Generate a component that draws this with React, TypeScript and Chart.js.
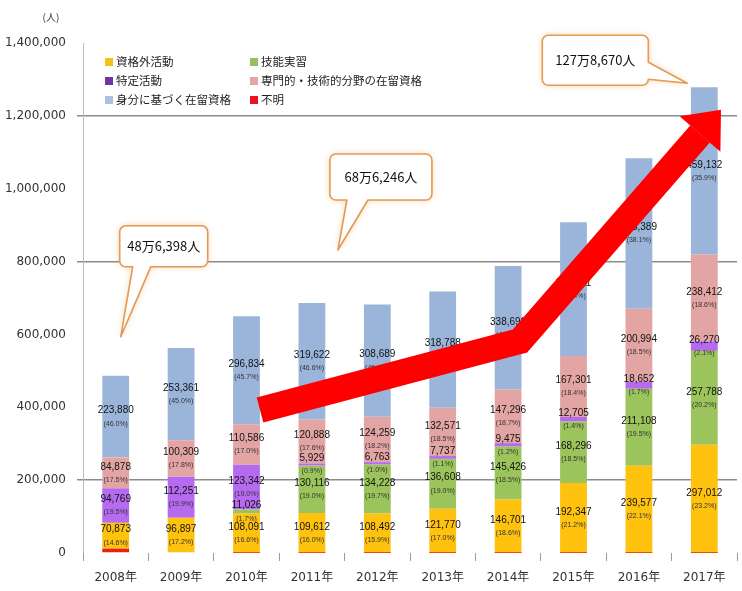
import React, { useEffect, useRef } from 'react';
import { Chart, registerables } from 'chart.js';

Chart.register(...registerables);

// ---- data ----
const YEARS = ['2008年', '2009年', '2010年', '2011年', '2012年', '2013年', '2014年', '2015年', '2016年', '2017年'];
const UNKNOWN = [11998, 0, 103, 79, 19, 30, 39, 36, 49, 56]; // 不明
const NON_STATUS = [70873, 96897, 108091, 109612, 108492, 121770, 146701, 192347, 239577, 297012]; // 資格外活動
const TRAINEE = [0, 0, 11026, 130116, 134228, 136608, 145426, 168296, 211108, 257788]; // 技能実習
const DESIGNATED = [94769, 112251, 123342, 5929, 6763, 7737, 9475, 12705, 18652, 26270]; // 特定活動
const PROFESSIONAL = [84878, 100309, 110586, 120888, 124259, 132571, 147296, 167301, 200994, 238412]; // 専門的・技術的分野の在留資格
const STATUS_BASED = [223880, 253361, 296834, 319622, 308689, 318788, 338690, 367211, 413389, 459132]; // 身分に基づく在留資格
const SERIES_NAMES = ['不明', '資格外活動', '技能実習', '特定活動', '専門的・技術的分野の在留資格', '身分に基づく在留資格'];
const Y_TICKS = [0, 200000, 400000, 600000, 800000, 1000000, 1200000, 1400000];
const GRID_VALUES = [200000, 800000, 1200000];
const CALLOUT_INDEX = [0, 3, 9];
const CALLOUT_TEXT = ['48万6,398人', '68万6,246人', '127万8,670人'];
const LEGEND_ORDER = [1, 2, 3, 4, 5, 0];

// ---- styles ----
const BAR_COLORS = ['#E8200E', '#FFC20E', '#9CC45C', '#B56AF0', '#E3A4A4', '#9BB5DA'];
const LEGEND_COLORS = ['#E8141E', '#F3C417', '#94C25F', '#6F35A5', '#E7A5AA', '#A9C0E0'];
const AXIS_FONT = "'DejaVu Sans', 'Noto Sans CJK JP', sans-serif";
const JP_FONT = "'Noto Sans CJK JP', sans-serif";
const LABEL_FONT = "'Liberation Sans', Arial, sans-serif";

function calloutPath(ctx: CanvasRenderingContext2D, x: number, y: number, w: number, h: number, r: number, tail: any) {
  ctx.beginPath();
  ctx.moveTo(x + r, y);
  ctx.lineTo(x + w - r, y);
  ctx.arcTo(x + w, y, x + w, y + r, r);
  if (tail.edge === 'right') {
    ctx.lineTo(x + w, tail.a);
    ctx.lineTo(tail.tx, tail.ty);
    ctx.lineTo(x + w, tail.b);
  }
  ctx.lineTo(x + w, y + h - r);
  ctx.arcTo(x + w, y + h, x + w - r, y + h, r);
  if (tail.edge === 'bottom') {
    ctx.lineTo(tail.b, y + h);
    ctx.lineTo(tail.tx, tail.ty);
    ctx.lineTo(tail.a, y + h);
  }
  ctx.lineTo(x + r, y + h);
  ctx.arcTo(x, y + h, x, y + h - r, r);
  ctx.lineTo(x, y + r);
  ctx.arcTo(x, y, x + r, y, r);
  ctx.closePath();
}

const labelPlugin = {
  id: 'segLabels',
  afterDatasetsDraw(chart: any) {
    const ctx: CanvasRenderingContext2D = chart.ctx;
    const ds = chart.data.datasets;
    const totals = YEARS.map((_, i) => ds.reduce((s: number, d: any) => s + (d.data[i] as number), 0));
    ctx.save();
    ctx.textAlign = 'center';
    ctx.textBaseline = 'middle';
    ds.forEach((d: any, di: number) => {
      if (di === 0) return;
      const meta = chart.getDatasetMeta(di);
      meta.data.forEach((el: any, i: number) => {
        const v = d.data[i] as number;
        if (!v) return;
        const cy = (el.y + el.base) / 2;
        ctx.fillStyle = '#111';
        ctx.font = `10px ${LABEL_FONT}`;
        ctx.fillText(v.toLocaleString('en-US'), el.x, cy - 6);
        ctx.fillStyle = '#333';
        ctx.font = `7px ${LABEL_FONT}`;
        ctx.fillText(`(${((v / totals[i]) * 100).toFixed(1)}%)`, el.x, cy + 7);
      });
    });
    ctx.restore();
  },
};

const overlayPlugin = {
  id: 'overlay',
  afterDraw(chart: any) {
    const ctx: CanvasRenderingContext2D = chart.ctx;
    const xs = chart.scales.x;
    const ys = chart.scales.y;
    const ds = chart.data.datasets;
    ctx.save();

    // unit label
    ctx.fillStyle = '#333';
    ctx.font = `10px ${JP_FONT}`;
    ctx.textAlign = 'center';
    ctx.textBaseline = 'middle';
    ctx.fillText('(人)', 51, 17);

    // legend
    ctx.font = `11.5px ${JP_FONT}`;
    ctx.textAlign = 'left';
    LEGEND_ORDER.forEach((di, k) => {
      const col = k % 2;
      const row = Math.floor(k / 2);
      const lx = col ? 250 : 105;
      const ly = 62 + row * 19;
      ctx.fillStyle = LEGEND_COLORS[di];
      ctx.fillRect(lx, ly - 4, 8, 8);
      ctx.fillStyle = '#222';
      ctx.fillText(ds[di].label, lx + 11, ly);
    });

    // red arrow
    const pts = [[260, 410], [520, 341], [700, 134]];
    ctx.strokeStyle = '#FF0000';
    ctx.fillStyle = '#FF0000';
    ctx.lineWidth = 26;
    ctx.lineCap = 'butt';
    ctx.lineJoin = 'miter';
    ctx.beginPath();
    ctx.moveTo(pts[0][0], pts[0][1]);
    for (let i = 1; i < pts.length; i++) ctx.lineTo(pts[i][0], pts[i][1]);
    ctx.stroke();
    const [bx0, by0] = pts[1];
    const [bx1, by1] = pts[2];
    const len = Math.hypot(bx1 - bx0, by1 - by0);
    const dx = (bx1 - bx0) / len;
    const dy = (by1 - by0) / len;
    const px = -dy;
    const py = dx;
    ctx.beginPath();
    ctx.moveTo(bx1 + dx * 32, by1 + dy * 32);
    ctx.lineTo(bx1 + px * 27, by1 + py * 27);
    ctx.lineTo(bx1 - px * 27, by1 - py * 27);
    ctx.closePath();
    ctx.fill();

    // callouts
    const totals = YEARS.map((_, i) => ds.reduce((s: number, d: any) => s + (d.data[i] as number), 0));
    const geo = [
      { dx: 4, dy: -150, w: 88, h: 41, tail: { edge: 'bottom', a: 17, b: 35, tx: 5, ty: -39 } },
      { dx: 18, dy: -149, w: 102, h: 46, tail: { edge: 'bottom', a: 35, b: 56, tx: 26, ty: -53 } },
      { dx: -162, dy: -52, w: 106, h: 50, tail: { edge: 'right', a: -25, b: -8, tx: -17, ty: -4 } },
    ];
    CALLOUT_INDEX.forEach((idx, k) => {
      const bx = xs.getPixelForValue(idx);
      const by = ys.getPixelForValue(totals[idx]);
      const g = geo[k];
      const x = bx + g.dx;
      const y = by + g.dy;
      const t = g.tail;
      const tail = t.edge === 'bottom'
        ? { edge: 'bottom', a: bx + t.a, b: bx + t.b, tx: bx + t.tx, ty: by + t.ty }
        : { edge: 'right', a: by + t.a, b: by + t.b, tx: bx + t.tx, ty: by + t.ty };
      ctx.save();
      ctx.shadowColor = 'rgba(240,165,90,0.55)';
      ctx.shadowBlur = 6;
      calloutPath(ctx, x, y, g.w, g.h, 6, tail);
      ctx.fillStyle = '#FFFFFF';
      ctx.fill();
      ctx.restore();
      calloutPath(ctx, x, y, g.w, g.h, 6, tail);
      ctx.strokeStyle = '#E39A55';
      ctx.lineWidth = 1.6;
      ctx.lineJoin = 'round';
      ctx.stroke();
      ctx.fillStyle = '#111';
      ctx.font = `13px ${JP_FONT}`;
      ctx.textAlign = 'center';
      ctx.textBaseline = 'middle';
      ctx.fillText(CALLOUT_TEXT[k], x + g.w / 2, y + g.h / 2);
    });

    ctx.restore();
  },
};

export default function App() {
  const ref = useRef<HTMLCanvasElement | null>(null);

  useEffect(() => {
    document.body.style.margin = '0';
    const canvas = ref.current;
    if (!canvas) return;
    const seriesData = [UNKNOWN, NON_STATUS, TRAINEE, DESIGNATED, PROFESSIONAL, STATUS_BASED];
    const chart = new Chart(canvas, {
      type: 'bar',
      data: {
        labels: YEARS,
        datasets: seriesData.map((d, i) => ({
          label: SERIES_NAMES[i],
          data: d,
          backgroundColor: BAR_COLORS[i],
          borderWidth: 0,
          inflateAmount: i === 0 ? 0 : 'auto',
          categoryPercentage: 1,
          barPercentage: 0.41,
        })),
      },
      options: {
        animation: false,
        responsive: false,
        maintainAspectRatio: false,
        layout: { padding: { top: 43, right: 5, left: 0, bottom: 0 } },
        plugins: { legend: { display: false }, tooltip: { enabled: false } },
        scales: {
          x: {
            stacked: true,
            grid: { display: true, drawOnChartArea: false, drawTicks: true, tickLength: 8, color: '#9a9a9a', offset: true },
            border: { display: false },
            ticks: { font: { family: AXIS_FONT, size: 12 }, color: '#333', padding: 10, maxRotation: 0 },
            afterFit: (s: any) => { s.height = 38; },
          },
          y: {
            stacked: true,
            min: 0,
            max: 1400000,
            afterBuildTicks: (s: any) => { s.ticks = Y_TICKS.map((v) => ({ value: v })); },
            ticks: {
              font: { family: AXIS_FONT, size: 12 },
              color: '#333',
              padding: 11,
              callback: (v: any) => Number(v).toLocaleString('en-US'),
            },
            grid: {
              color: (c: any) => (c.tick && GRID_VALUES.includes(c.tick.value) ? '#8c8c8c' : 'rgba(0,0,0,0)'),
              lineWidth: 1.5,
              tickLength: 6,
              drawTicks: true,
            },
            border: { display: true, color: '#bdbdbd', width: 1 },
            afterFit: (s: any) => { s.width = 83; },
          },
        },
      },
      plugins: [labelPlugin, overlayPlugin],
    });
    return () => chart.destroy();
  }, []);

  return (
    <div style={{ width: 742, height: 591, background: '#fff' }}>
      <canvas ref={ref} width={742} height={591} style={{ width: 742, height: 591, display: 'block' }} />
    </div>
  );
}
